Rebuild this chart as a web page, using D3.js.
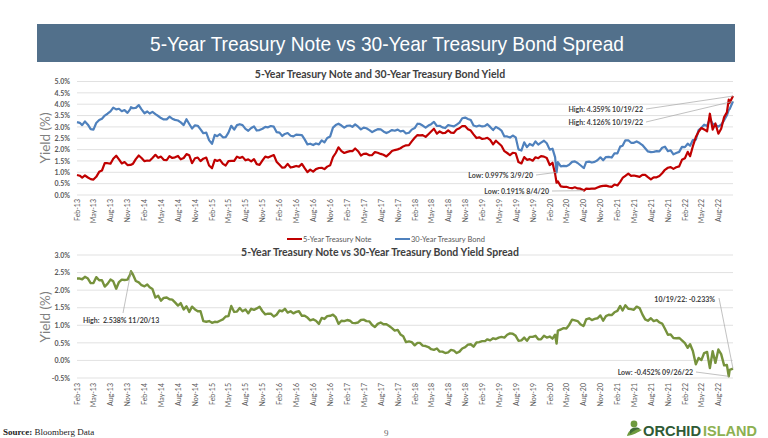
<!DOCTYPE html>
<html><head><meta charset="utf-8">
<script src="https://cdn.jsdelivr.net/npm/d3@7"></script>
<style>html,body{margin:0;padding:0;background:#fff;}svg{display:block;}</style>
</head><body>
<svg id="c" width="768" height="438"></svg>
<script>
// ---------------- DATA ----------------
const sampleStart = "2013-02-01";
const note5Yield = [
 0.88,0.85,0.77,0.86,0.77,0.70,0.68,0.80,1.02,1.08,1.40,1.40,1.38,1.60,1.73,1.57,1.39,1.45,1.32,1.33,1.38,1.58,
 1.74,1.63,1.49,1.52,1.51,1.63,1.77,1.64,1.69,1.55,1.54,1.71,1.63,1.66,1.72,1.57,1.63,1.80,1.75,1.40,1.62,1.65,1.49,1.60,
 1.65,1.30,1.18,1.55,1.50,1.55,1.37,1.30,1.49,1.50,1.50,1.69,1.63,1.68,1.53,1.57,1.48,1.58,1.36,1.33,1.52,1.69,1.65,1.71,
 1.76,1.47,1.33,1.20,1.22,1.37,1.21,1.24,1.28,1.25,1.37,1.18,1.01,1.12,1.03,1.14,1.19,1.20,1.14,1.25,1.31,1.67,1.85,2.10,
 1.93,1.85,1.90,1.93,1.93,2.05,1.93,1.74,1.81,1.82,1.75,1.76,1.89,1.86,1.81,1.77,1.70,1.81,1.94,1.98,2.01,2.06,2.14,2.19,
 2.20,2.36,2.52,2.64,2.63,2.64,2.56,2.68,2.80,2.92,2.70,2.80,2.73,2.74,2.85,2.75,2.74,2.89,2.94,3.04,3.03,2.90,2.84,2.67,
 2.51,2.54,2.47,2.49,2.52,2.43,2.23,2.39,2.28,2.17,1.93,1.85,1.76,1.86,1.84,1.45,1.39,1.67,1.55,1.58,1.51,1.66,1.62,1.71,
 1.69,1.63,1.32,1.42,0.94,0.60,0.38,0.36,0.36,0.32,0.30,0.34,0.29,0.28,0.22,0.28,0.27,0.28,0.28,0.33,0.38,0.40,0.41,0.38,
 0.36,0.46,0.42,0.58,0.75,0.84,0.94,0.84,0.86,0.83,0.80,0.89,0.89,0.79,0.69,0.78,0.78,0.84,0.96,1.11,1.20,1.23,1.15,1.22,
 1.26,1.55,1.62,1.90,1.71,2.15,2.55,2.79,2.95,2.89,2.80,3.58,2.88,3.15,2.70,2.92,3.43,3.64,4.06
];
const bond30Yield = [
 3.21,3.18,3.08,3.24,3.10,2.90,2.88,3.17,3.30,3.36,3.50,3.58,3.68,3.85,3.77,3.80,3.69,3.74,3.62,3.78,3.82,3.84,
 3.96,3.77,3.60,3.68,3.59,3.66,3.56,3.48,3.39,3.33,3.33,3.45,3.36,3.31,3.28,3.20,3.08,3.34,3.13,2.93,3.07,3.05,2.89,2.72,
 2.75,2.42,2.25,2.65,2.59,2.68,2.54,2.55,2.75,3.05,2.88,3.08,3.12,3.08,2.91,2.83,2.95,3.02,2.84,2.86,2.92,3.00,2.98,3.04,
 3.01,2.77,2.75,2.60,2.69,2.73,2.61,2.58,2.66,2.65,2.64,2.45,2.23,2.26,2.20,2.27,2.23,2.41,2.32,2.51,2.58,2.97,3.08,3.14,
 3.06,2.97,3.05,3.06,3.00,3.11,3.01,2.89,2.97,2.94,2.86,2.77,2.84,2.90,2.89,2.80,2.73,2.79,2.86,2.83,2.88,2.80,2.83,2.71,
 2.74,2.88,2.95,3.14,3.13,3.06,2.97,3.06,3.12,3.22,3.04,3.05,2.98,2.95,3.08,3.05,3.02,3.10,3.19,3.38,3.41,3.35,3.30,3.06,
 3.02,3.06,3.02,3.04,3.12,3.00,2.86,3.00,2.93,2.84,2.58,2.58,2.53,2.62,2.54,2.01,1.96,2.32,2.11,2.25,2.18,2.36,2.22,2.31,
 2.39,2.28,2.00,2.04,1.67,1.45,1.26,1.28,1.27,1.33,1.46,1.48,1.41,1.31,1.20,1.45,1.47,1.43,1.46,1.53,1.66,1.53,1.67,1.68,
 1.65,1.83,1.83,2.13,2.17,2.41,2.41,2.30,2.30,2.36,2.29,2.20,2.06,1.92,1.89,1.90,1.93,1.92,2.08,2.13,1.93,1.97,1.79,1.85,
 1.90,2.12,2.11,2.26,2.17,2.42,2.44,2.86,2.96,3.10,3.04,3.36,3.14,3.08,3.01,3.10,3.29,3.51,3.79
];
const yieldSpread = [
 2.33,2.33,2.31,2.38,2.33,2.20,2.20,2.37,2.28,2.28,2.10,2.18,2.30,2.25,2.04,2.23,2.30,2.29,2.30,2.45,2.44,2.26,
 2.22,2.14,2.11,2.16,2.08,2.03,1.79,1.84,1.70,1.78,1.79,1.74,1.73,1.65,1.56,1.63,1.45,1.54,1.38,1.53,1.45,1.40,1.40,1.12,
 1.10,1.12,1.07,1.10,1.09,1.13,1.17,1.25,1.26,1.55,1.38,1.39,1.49,1.40,1.45,1.34,1.47,1.44,1.48,1.53,1.40,1.31,1.33,1.33,
 1.25,1.30,1.42,1.40,1.47,1.36,1.40,1.34,1.38,1.40,1.27,1.27,1.22,1.14,1.17,1.13,1.04,1.21,1.18,1.26,1.27,1.30,1.23,1.04,
 1.13,1.12,1.15,1.13,1.07,1.06,1.08,1.15,1.16,1.12,1.11,1.01,0.95,1.04,1.08,1.03,1.03,0.98,0.92,0.85,0.87,0.74,0.69,0.52,
 0.54,0.52,0.43,0.50,0.50,0.42,0.41,0.38,0.32,0.30,0.34,0.25,0.25,0.21,0.23,0.30,0.28,0.21,0.25,0.34,0.38,0.45,0.46,0.39,
 0.51,0.52,0.55,0.55,0.60,0.57,0.63,0.61,0.65,0.67,0.65,0.73,0.77,0.76,0.70,0.56,0.57,0.65,0.56,0.67,0.67,0.70,0.60,0.60,
 0.70,0.65,0.68,0.62,0.73,0.85,0.88,0.92,0.91,1.01,1.16,1.14,1.12,1.03,0.98,1.17,1.20,1.15,1.18,1.20,1.28,1.13,1.26,1.30,
 1.29,1.37,1.41,1.55,1.42,1.57,1.47,1.46,1.44,1.53,1.49,1.31,1.17,1.13,1.20,1.12,1.15,1.08,1.05,0.90,0.73,0.74,0.64,0.63,
 0.64,0.57,0.49,0.36,0.46,0.27,-0.11,0.07,0.01,0.21,0.24,-0.22,0.26,-0.07,0.31,0.18,-0.14,-0.13,-0.27
];
// Annotated points
const keyDates  = ["2013-11-20","2020-03-09","2020-08-04","2022-09-26","2022-10-19"];
const keyNote5  = [1.33, 0.54, 0.191, 4.20, 4.359];
const keyBond30 = [3.868, 0.997, 1.19, 3.748, 4.126];
const keySpread = [2.538, 0.48, 1.00, -0.452, -0.233];

const axisStart = "2013-02-01", axisEnd = "2022-10-19";
const yieldTicks  = [0,0.5,1,1.5,2,2.5,3,3.5,4,4.5,5];
const spreadTicks = [-0.5,0,0.5,1,1.5,2,2.5,3];
const seriesNames = ["5-Year Treasury Note","30-Year Treasury Bond","Spread"];
const pageTitle   = "5-Year Treasury Note vs 30-Year Treasury Bond Spread";
const topTitle    = "5-Year Treasury Note and 30-Year Treasury Bond Yield";
const bottomTitle = "5-Year Treasury Note vs 30-Year Treasury Bond Yield Spread";

// ---------------- BUILD ----------------
const parse = d3.utcParse("%Y-%m-%d");
const sampleDates = [];
for (let m = parse(sampleStart); sampleDates.length < note5Yield.length; m = d3.utcMonth.offset(m,1)) {
  sampleDates.push(m); sampleDates.push(d3.utcDay.offset(m,15));
}
sampleDates.length = note5Yield.length;
function buildSeries(vals, keyVals){
  const a = vals.map((v,i)=>({date:sampleDates[i], v}));
  keyDates.forEach((d,i)=>a.push({date:parse(d), v:keyVals[i]}));
  return a.sort((p,q)=>p.date-q.date);
}
const s5 = buildSeries(note5Yield,keyNote5);
const s30 = buildSeries(bond30Yield,keyBond30);
const sSp = buildSeries(yieldSpread,keySpread);

const svg = d3.select("#c");
const FONT = "Lato, 'Open Sans', sans-serif";
const ARIAL = "'Liberation Sans', Arial, sans-serif";

// Title bar
svg.append("rect").attr("x",37).attr("y",24).attr("width",698).attr("height",38).attr("fill","#52708b");
svg.append("text").attr("x",150).attr("y",51)
  .attr("fill","#fff").attr("font-family",ARIAL).attr("font-size",21)
  .attr("textLength",474).attr("lengthAdjust","spacingAndGlyphs").text(pageTitle);

const x = d3.scaleUtc().domain([parse(axisStart), parse(axisEnd)]).range([77,733]);
const xTicks = d3.utcMonth.range(parse("2013-02-01"), parse("2022-09-01"), 3);
const fmtM = d3.utcFormat("%b-%y");

function panel(y, ticks, labelY, titleY, title, yTitleY){
  svg.append("g").selectAll("line").data(ticks).join("line")
    .attr("x1",77).attr("x2",733).attr("y1",d=>y(d)).attr("y2",d=>y(d))
    .attr("stroke","#d9d9d9").attr("stroke-width",0.8);
  const ya = svg.append("g").attr("transform","translate(70,0)")
    .call(d3.axisLeft(y).tickValues(ticks).tickFormat(d=>d.toFixed(1)+"%").tickSize(0).tickPadding(0));
  ya.select(".domain").remove();
  ya.selectAll("text").attr("font-family",FONT).attr("font-size",7).attr("fill","#595959").attr("font-weight","bold");
  const xa = svg.append("g").attr("transform",`translate(0,${labelY})`)
    .call(d3.axisBottom(x).tickValues(xTicks).tickFormat(fmtM).tickSize(0));
  xa.select(".domain").remove();
  xa.selectAll("text").attr("transform","rotate(-90)").attr("text-anchor","end")
    .attr("x",0).attr("y",0).attr("dy","0.35em")
    .attr("font-family",FONT).attr("font-size",7).attr("fill","#595959");
  svg.append("text").attr("x",380).attr("y",titleY).attr("text-anchor","middle")
    .attr("font-family",FONT).attr("font-weight","bold").attr("font-size",10.5).attr("fill","#404040").text(title);
  svg.append("text").attr("transform",`translate(50,${yTitleY}) rotate(-90)`).attr("text-anchor","middle")
    .attr("font-family",FONT).attr("font-size",13.5).attr("fill","#7f7f7f").text("Yield (%)");
}

const yTop = d3.scaleLinear().domain([0,5]).range([195,81.5]);
const yBot = d3.scaleLinear().domain([-0.5,3]).range([378,255]);
panel(yTop, yieldTicks, 199, 78, topTitle, 138);
panel(yBot, spreadTicks, 383, 256, bottomTitle, 317);

function drawLine(data, y, color, w){
  svg.append("path").datum(data).attr("fill","none").attr("stroke",color)
    .attr("stroke-width",w).attr("stroke-linejoin","round")
    .attr("d", d3.line().x(d=>x(d.date)).y(d=>y(d.v)));
}
drawLine(s30, yTop, "#4f81bd", 2.2);
drawLine(s5, yTop, "#c00000", 2.2);
drawLine(sSp, yBot, "#76923c", 2.4);

// Legend
const legend = [{name:seriesNames[0], c:"#c00000", x:287},{name:seriesNames[1], c:"#4f81bd", x:395}];
legend.forEach(l=>{
  svg.append("line").attr("x1",l.x).attr("x2",l.x+15).attr("y1",239).attr("y2",239).attr("stroke",l.c).attr("stroke-width",2);
  svg.append("text").attr("x",l.x+16).attr("y",241.5).attr("font-family",FONT).attr("font-size",7.5).attr("fill","#595959").text(l.name);
});

// Annotations
function annot(text, tx, ty, anchor, lx, ly, date, v, y){
  svg.append("line").attr("x1",lx).attr("y1",ly).attr("x2",x(parse(date))).attr("y2",y(v))
    .attr("stroke","#a6a6a6").attr("stroke-width",0.7);
  svg.append("text").attr("x",tx).attr("y",ty).attr("text-anchor",anchor)
    .attr("font-family",FONT).attr("font-size",7).attr("font-weight","bold").attr("fill","#404040")
    .style("white-space","pre").text(text);
}
annot("High: 4.359% 10/19/22", 643, 111.5, "end", 646, 109, keyDates[4], keyNote5[4], yTop);
annot("High: 4.126% 10/19/22", 643, 124.5, "end", 646, 122, keyDates[4], keyBond30[4], yTop);
annot("Low: 0.997% 3/9/20", 533, 177.5, "end", 536, 175, keyDates[1], keyBond30[1], yTop);
annot("Low: 0.191% 8/4/20", 549, 193.5, "end", 552, 191, keyDates[2], keyNote5[2], yTop);
annot("High:  2.538% 11/20/13", 83, 322.5, "start", 123, 313, keyDates[0], keySpread[0], yBot);
annot("10/19/22: -0.233%", 715, 301.5, "end", 719, 298, keyDates[4], keySpread[4], yBot);
annot("Low: -0.452% 09/26/22", 693, 374.5, "end", 696, 372, keyDates[3], keySpread[3], yBot);

// Footer
const ft = svg.append("text").attr("x",3).attr("y",435).attr("font-family","'Liberation Serif', serif").attr("font-size",9).attr("fill","#222");
ft.append("tspan").attr("font-weight","bold").text("Source:");
ft.append("tspan").text(" Bloomberg Data");
svg.append("text").attr("x",384).attr("y",436).attr("font-family","'Liberation Serif', serif").attr("font-size",9).attr("fill","#666").text("9");

// Logo
const lg = svg.append("g");
lg.append("circle").attr("cx",634).attr("cy",424).attr("r",3.4).attr("fill","#6e9a3e");
lg.append("path").attr("d","M627,436 C628,429 636,427 642,430 C638,432 634,435 627,436 Z").attr("fill","#6e9a3e");
lg.append("path").attr("d","M630,430 C633,427 638,427 640,429 C636,429 633,431 630,434 Z").attr("fill","#3f6b36");
lg.append("text").attr("x",643).attr("y",435.5).attr("font-family",ARIAL).attr("font-weight","bold").attr("font-size",15.5)
  .attr("fill","#2f5a35").attr("textLength",58).attr("lengthAdjust","spacingAndGlyphs").text("ORCHID");
lg.append("text").attr("x",703).attr("y",435.5).attr("font-family",ARIAL).attr("font-weight","bold").attr("font-size",15.5)
  .attr("fill","#8cb050").attr("textLength",54).attr("lengthAdjust","spacingAndGlyphs").text("ISLAND");
</script>
</body></html>
